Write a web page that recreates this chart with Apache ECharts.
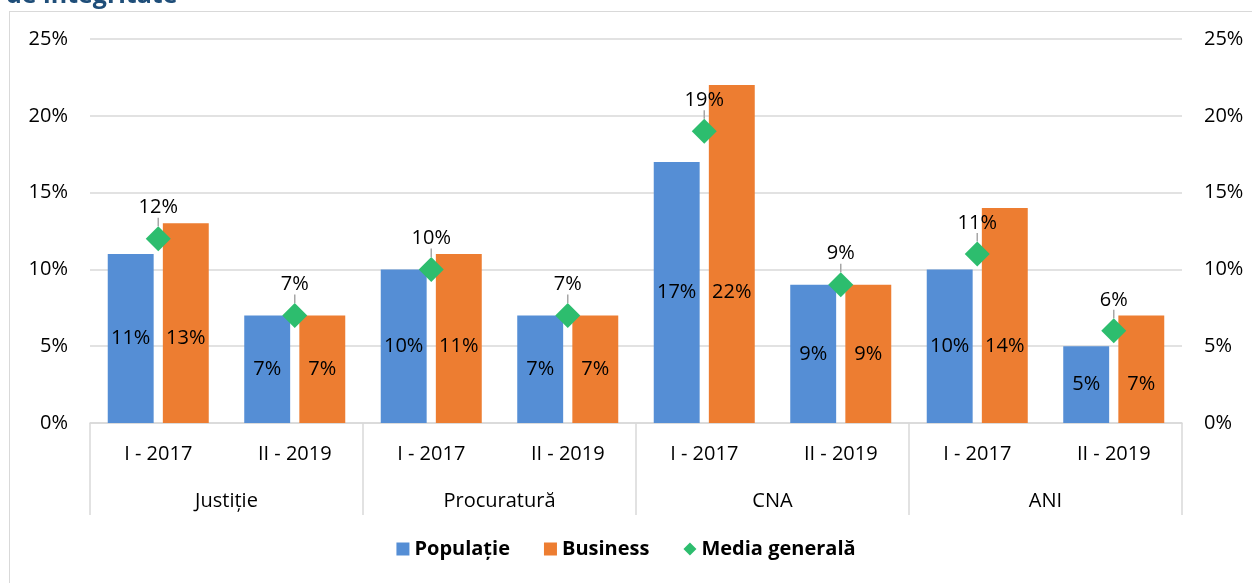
<!DOCTYPE html>
<html><head><meta charset="utf-8">
<script src="https://cdn.jsdelivr.net/npm/echarts@6/dist/echarts.min.js"></script>
<style>
html,body{margin:0;padding:0;background:#fff;overflow:hidden}
#frame{position:absolute;left:9px;top:11px;width:1400px;height:700px;border:1px solid #d9d9d9;box-sizing:border-box}
#chart{position:absolute;left:0;top:0;width:1252px;height:583px}
</style></head>
<body>
<div id="frame"></div>
<div id="chart"></div>
<script>
const periods = ['I - 2017','II - 2019','I - 2017','II - 2019','I - 2017','II - 2019','I - 2017','II - 2019'];
const groups = ['Justiție','Procuratură','CNA','ANI'];
const populatie = [11,7,10,7,17,9,10,5];
const business = [13,7,11,7,22,9,14,7];
const media = [12,7,10,7,19,9,11,6];
const yTicks = [0,5,10,15,20,25];

const font = '"Open Sans", Lato, sans-serif';
const fs = 20;
const chart = echarts.init(document.getElementById('chart'));
const yAxisCommon = {
  type:'value', min:yTicks[0], max:yTicks[yTicks.length-1], interval:yTicks[1]-yTicks[0],
  axisLine:{show:false}, axisTick:{show:false},
  axisLabel:{formatter:v=>v+'%', color:'#000', fontSize:fs, fontFamily:font, margin:22},
  splitLine:{lineStyle:{color:'#d9d9d9', width:1.5}}
};
const barLabel = {show:true, position:'inside', formatter:'{c}%', color:'#000', fontSize:fs, fontFamily:font};
chart.setOption({
  animation:false,
  graphic:[{type:'text', left:6, top:-17, style:{text:'de integritate', fill:'#1f4e79', font:'bold 25px '+font}}],
  legend:{
    bottom:19, left:'center', itemGap:34, itemWidth:13, itemHeight:13,
    textStyle:{fontSize:20, fontWeight:'bold', color:'#000', fontFamily:font},
    data:[{name:'Populație', icon:'rect'},{name:'Business', icon:'rect'},{name:'Media generală', icon:'diamond'}]
  },
  grid:{left:90, right:70, top:39, bottom:160},
  xAxis:[
    {type:'category', data:periods, axisTick:{show:false},
     axisLine:{lineStyle:{color:'#d9d9d9', width:1.5}},
     axisLabel:{color:'#000', fontSize:fs, fontFamily:font, margin:21}},
    {type:'category', data:groups, position:'bottom', boundaryGap:true,
     axisLine:{show:false},
     axisTick:{show:true, length:92, lineStyle:{color:'#d9d9d9', width:1.5}},
     axisLabel:{color:'#000', fontSize:fs, fontFamily:font, margin:68}}
  ],
  yAxis:[
    Object.assign({}, yAxisCommon, {position:'left'}),
    Object.assign({}, yAxisCommon, {position:'right', splitLine:{show:false}})
  ],
  series:[
    {name:'Populație', type:'bar', data:populatie, itemStyle:{color:'#558ed5'},
     barGap:'20%', barCategoryGap:'26%', label:barLabel},
    {name:'Business', type:'bar', data:business, itemStyle:{color:'#ed7d31'}, label:barLabel,
     // labels sit at the height of the Populație label in the same category
     labelLayout:function(p){
       const i = p.dataIndex;
       const pxPerUnit = p.rect.height / business[i];
       return {dy: (business[i] - populatie[i]) / 2 * pxPerUnit};
     }},
    {name:'Media generală', type:'scatter', data:media, symbol:'diamond', symbolSize:25,
     itemStyle:{color:'#2dbd6e', opacity:1}, z:5,
     label:{show:true, position:'inside', formatter:'{c}%', color:'#000', fontSize:fs, fontFamily:font},
     labelLayout:{dy:-31},
     labelLine:{show:true, lineStyle:{color:'#a6a6a6', width:1.5}}}
  ]
});
</script>
</body></html>
